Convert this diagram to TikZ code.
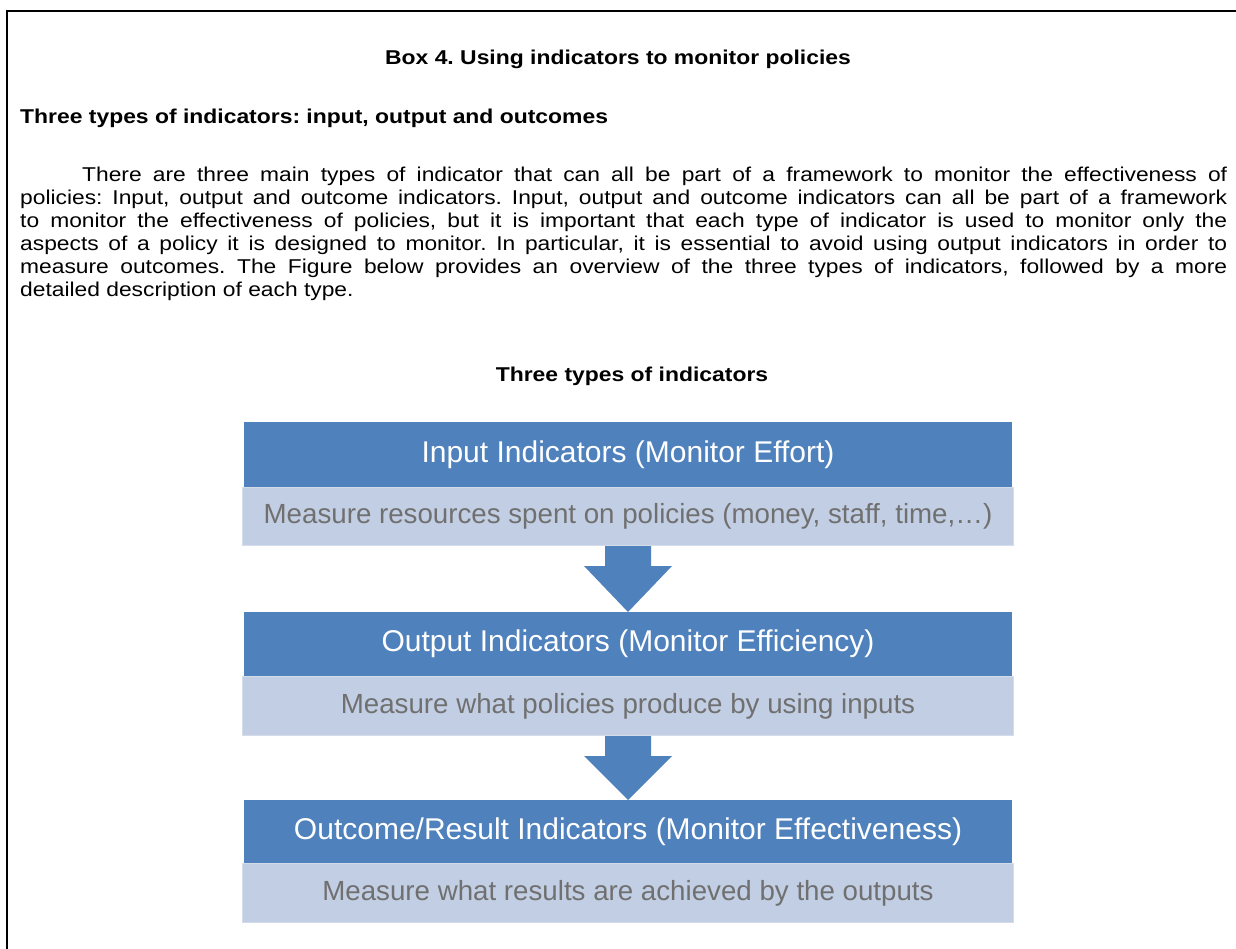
\documentclass[tikz,border=0pt]{standalone}
\usepackage{fontspec}
\setmainfont{Liberation Sans}
\newfontfamily\bodyfont[FakeStretch=1.14]{Liberation Sans}
\newfontfamily\headfont[FakeStretch=1.145]{Liberation Sans}
\usetikzlibrary{calc}
\definecolor{darkblue}{RGB}{79,129,189}
\definecolor{lightblue}{RGB}{194,206,227}
\definecolor{lightedge}{RGB}{212,220,234}
\definecolor{greytext}{RGB}{112,112,112}
\newcommand{\jline}[1]{\hbox to 1207pt{#1}}
\frenchspacing
\begin{document}
\begin{tikzpicture}[x=1pt,y=-1pt,
  darkbox/.style={fill=darkblue, draw=none, minimum width=768pt, inner sep=0pt,
    text=white, font=\fontsize{30}{36}\selectfont, anchor=north},
  lightbox/.style={fill=lightblue, draw=lightedge, line width=1pt, minimum width=771pt,
    inner sep=0pt, text=greytext, font=\fontsize{27.7}{33}\selectfont, anchor=north},
  flowarrow/.style={fill=darkblue, draw=none},
  bodytext/.style={font=\bodyfont\fontsize{20}{23}\selectfont, inner sep=0pt},
  headtext/.style={font=\headfont\bfseries\fontsize{20}{23}\selectfont, inner sep=0pt},
  framestyle/.style={draw=black, line width=2pt}]
\useasboundingbox (0,0) rectangle (1236,949);
\fill[white] (0,0) rectangle (1236,949);
% frame (top and left edges)
\draw[framestyle] (6.7,949) -- (6.7,10.7) -- (1236,10.7);
% headings
\node[headtext, anchor=base] (boxtitle) at (618,65) {Box 4. Using indicators to monitor policies};
\node[headtext, anchor=base west] (subhead) at (20,124) {Three types of indicators: input, output and outcomes};
% paragraph
\node[bodytext, anchor=base west] (para) at (20,182) {\vtop{\baselineskip=23pt
\jline{\hspace*{62pt}There are three main types of indicator that can all be part of a framework to monitor the effectiveness of}
\jline{policies: Input, output and outcome indicators. Input, output and outcome indicators can all be part of a framework}
\jline{to monitor the effectiveness of policies, but it is important that each type of indicator is used to monitor only the}
\jline{aspects of a policy it is designed to monitor. In particular, it is essential to avoid using output indicators in order to}
\jline{measure outcomes. The Figure below provides an overview of the three types of indicators, followed by a more}
\hbox{detailed description of each type.}}};
% figure title
\node[headtext, anchor=base] (figtitle) at (632,381) {Three types of indicators};
% diagram boxes
\node[darkbox, minimum height=65pt] (d1) at (628,422) {Input Indicators (Monitor Effort)};
\node[lightbox, minimum height=58pt] (l1) at (628,487) {Measure resources spent on policies (money, staff, time,\dots)};
\node[darkbox, minimum height=64pt] (d2) at (628,612) {Output Indicators (Monitor Efficiency)};
\node[lightbox, minimum height=59pt] (l2) at (628,676) {Measure what policies produce by using inputs};
\node[darkbox, minimum height=63pt] (d3) at (628,800) {Outcome/Result Indicators (Monitor Effectiveness)};
\node[lightbox, minimum height=59pt] (l3) at (628,863) {Measure what results are achieved by the outputs};
% arrows
\fill[flowarrow] ($(l1.south)+(-23,0)$) -- ($(l1.south)+(23,0)$) -- ($(l1.south)+(23,20)$)
  -- ($(l1.south)+(44,20)$) -- (d2.north) -- ($(l1.south)+(-44,20)$) -- ($(l1.south)+(-23,20)$) -- cycle;
\fill[flowarrow] ($(l2.south)+(-23,0)$) -- ($(l2.south)+(23,0)$) -- ($(l2.south)+(23,20)$)
  -- ($(l2.south)+(44,20)$) -- (d3.north) -- ($(l2.south)+(-44,20)$) -- ($(l2.south)+(-23,20)$) -- cycle;
\end{tikzpicture}
\end{document}
